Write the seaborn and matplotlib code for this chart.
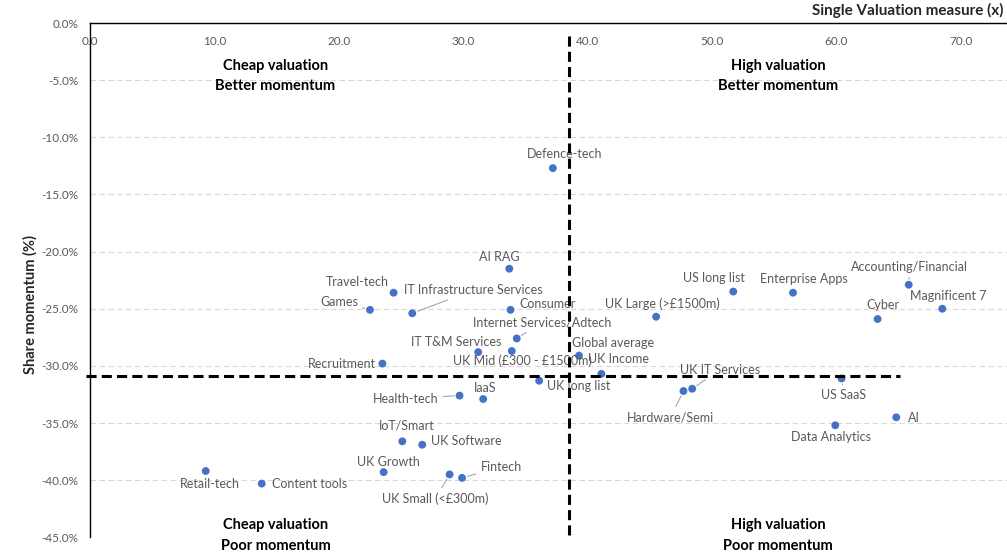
import matplotlib
matplotlib.use('Agg')
import matplotlib.pyplot as plt
import seaborn as sns
import pandas as pd
from matplotlib.ticker import FuncFormatter, MultipleLocator

# sector / index names with valuation (x) and share momentum (%)
names = [
    'Defence-tech', 'AI RAG', 'Travel-tech', 'Games', 'IT Infrastructure Services',
    'Consumer', 'Internet Services/Adtech', 'IT T&M Services', 'UK Mid (£300 - £1500m)',
    'Recruitment', 'Global average', 'UK Income', 'UK long list', 'Health-tech', 'IaaS',
    'IoT/Smart', 'UK Software', 'UK Growth', 'UK Small (<£300m)', 'Fintech',
    'Retail-tech', 'Content tools', 'UK Large (>£1500m)', 'US long list',
    'Enterprise Apps', 'Accounting/Financial', 'Magnificent 7', 'Cyber',
    'UK IT Services', 'Hardware/Semi', 'US SaaS', 'AI', 'Data Analytics',
]
valuation = [
    37.2, 33.7, 24.4, 22.5, 25.9,
    33.8, 34.3, 31.2, 33.9,
    23.5, 39.3, 41.1, 36.1, 29.7, 31.6,
    25.1, 26.7, 23.6, 28.9, 29.9,
    9.3, 13.8, 45.5, 51.7,
    56.5, 65.8, 68.5, 63.3,
    48.4, 47.7, 60.4, 64.8, 59.9,
]
momentum = [
    -12.7, -21.5, -23.6, -25.1, -25.4,
    -25.1, -27.6, -28.8, -28.7,
    -29.8, -29.1, -30.7, -31.3, -32.6, -32.9,
    -36.6, -36.9, -39.3, -39.5, -39.8,
    -39.2, -40.3, -25.7, -23.5,
    -23.6, -22.9, -25.0, -25.9,
    -32.0, -32.2, -31.1, -34.5, -35.2,
]
x_split = 38.5
y_split = -30.85

# label offsets in pixels (dx, dy up-positive), and whether a leader line is drawn
label_pos = {
    'Defence-tech': (12, 14, False), 'AI RAG': (-10, 12, False),
    'Travel-tech': (-36, 11, False), 'Games': (-31, 8, True),
    'IT Infrastructure Services': (61, 23, True), 'Consumer': (37, 6, False),
    'Internet Services/Adtech': (25, 16, True), 'IT T&M Services': (-22, 10, False),
    'UK Mid (£300 - £1500m)': (11, -10, False), 'Recruitment': (-40, 0, False),
    'Global average': (34, 13, False), 'UK Income': (17, 15, False),
    'UK long list': (40, -5, False), 'Health-tech': (-54, -3, True),
    'IaaS': (2, 11, False), 'IoT/Smart': (4, 16, False),
    'UK Software': (44, 4, False), 'UK Growth': (5, 10, False),
    'UK Small (<£300m)': (-14, -24, True), 'Fintech': (39, 11, True),
    'Retail-tech': (4, -13, False), 'Content tools': (48, 0, False),
    'UK Large (>£1500m)': (6, 13, False), 'US long list': (-19, 14, False),
    'Enterprise Apps': (11, 14, False), 'Accounting/Financial': (1, 18, True),
    'Magnificent 7': (6, 13, False), 'Cyber': (5, 14, False),
    'UK IT Services': (28, 19, True), 'Hardware/Semi': (-13, -26, True),
    'US SaaS': (2, -17, True), 'AI': (18, -1, False),
    'Data Analytics': (-4, -12, False),
}

df = pd.DataFrame({'name': names, 'valuation': valuation, 'momentum': momentum})

sns.set_theme(style='white')
plt.rcParams['font.family'] = ['Lato', 'DejaVu Sans']

fig = plt.figure(figsize=(10.07, 5.56), dpi=100)
ax = fig.add_axes([90 / 1007, 1 - 537.3 / 556, 917 / 1007, (537.3 - 23) / 556])

ax.yaxis.grid(True, color='#d9d9d9', linestyle=(0, (5, 3)), linewidth=0.8)
ax.set_axisbelow(True)

sns.scatterplot(data=df, x='valuation', y='momentum', ax=ax, color='#4472C4',
                s=32, edgecolor='none', legend=False, zorder=3)

for _, row in df.iterrows():
    dx, dy, leader = label_pos[row['name']]
    kw = {}
    if leader:
        kw['arrowprops'] = dict(arrowstyle='-', color='#a6a6a6', lw=0.8,
                                shrinkA=1, shrinkB=4)
    ax.annotate(row['name'], (row['valuation'], row['momentum']),
                xytext=(dx, dy), textcoords='offset pixels',
                ha='center', va='center', fontsize=9, color='#595959', **kw)

# quadrant split lines
ax.plot([x_split, x_split], [-1.1, -45], color='black', lw=2.2,
        linestyle=(0, (3.3, 1.7)), zorder=4, clip_on=False)
ax.plot([-0.3, 65.1], [y_split, y_split], color='black', lw=2.2,
        linestyle=(0, (3.3, 1.7)), zorder=4, clip_on=False)

ax.set_xlim(0, 73.7)
ax.set_ylim(-45, 0)
ax.set_xticks(range(0, 80, 10))
ax.yaxis.set_major_locator(MultipleLocator(5))
ax.xaxis.set_major_formatter(FuncFormatter(lambda v, p: f'{v:.1f}'))
ax.yaxis.set_major_formatter(FuncFormatter(lambda v, p: f'{v:.1f}%'))
ax.tick_params(axis='x', top=False, bottom=False, labelbottom=False, labeltop=True,
               pad=-23, labelsize=8.5, labelcolor='#595959')
ax.tick_params(axis='y', left=False, labelsize=8.5, labelcolor='#595959', pad=2.5)
ax.set_xlabel('')
ax.set_ylabel('')

for side in ['right', 'bottom']:
    ax.spines[side].set_visible(False)
for side in ['left', 'top']:
    ax.spines[side].set_color('black')
    ax.spines[side].set_linewidth(1.0)

quad = dict(ha='center', va='center', fontsize=10.5, fontweight='bold',
            color='black', clip_on=False)
ax.text(14.9, -3.75, 'Cheap valuation', **quad)
ax.text(14.9, -5.5, 'Better momentum', **quad)
ax.text(55.3, -3.75, 'High valuation', **quad)
ax.text(55.3, -5.5, 'Better momentum', **quad)
ax.text(14.9, -43.9, 'Cheap valuation', **quad)
ax.text(14.9, -45.8, 'Poor momentum', **quad)
ax.text(55.3, -43.9, 'High valuation', **quad)
ax.text(55.3, -45.8, 'Poor momentum', **quad)

fig.text(1003 / 1007, 1 - 10 / 556, 'Single Valuation measure (x)', ha='right',
         va='center', fontsize=11, fontweight='bold')
fig.text(30 / 1007, 1 - 305 / 556, 'Share momentum (%)', ha='center', va='center',
         rotation=90, fontsize=10.5, fontweight='bold')

fig.savefig('out.png', dpi=100)
plt.close(fig)
